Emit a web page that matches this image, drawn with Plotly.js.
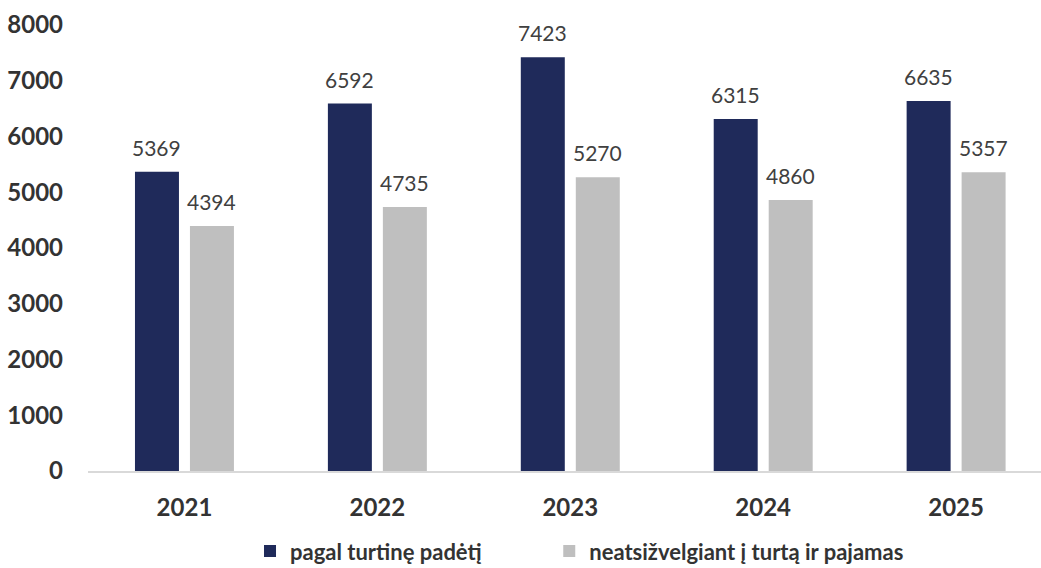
<!DOCTYPE html>
<html><head><meta charset="utf-8">
<script src="https://cdn.plot.ly/plotly-3.0.1.min.js"></script>
<style>html,body{margin:0;padding:0;background:#fff}#c{width:1041px;height:568px}</style>
</head><body><div id="c"></div>
<script>
const years = ['2021','2022','2023','2024','2025'];
const seriesA = [5369, 6592, 7423, 6315, 6635];
const seriesB = [4394, 4735, 5270, 4860, 5357];
const nameA = 'pagal turtinę padėtį';
const nameB = 'neatsižvelgiant į turtą ir pajamas';
const yTicks = [0,1000,2000,3000,4000,5000,6000,7000,8000];

const font = 'Lato, "Open Sans", sans-serif';
const txt = '#404040';

const annotations = [];
years.forEach((y,i)=>{
  annotations.push({x:i, y:seriesA[i], text:String(seriesA[i]), xref:'x', yref:'y', showarrow:false, xshift:-27.5, yanchor:'bottom', yshift:10, font:{family:font,size:21,color:txt}});
  annotations.push({x:i, y:seriesB[i], text:String(seriesB[i]), xref:'x', yref:'y', showarrow:false, xshift:27.5, yanchor:'bottom', yshift:10, font:{family:font,size:21,color:txt}});
});

const data = [
  {type:'bar', x:years, y:seriesA, name:nameA, marker:{color:'#1F2A5A'}, hoverinfo:'none', legend:'legend'},
  {type:'bar', x:years, y:seriesB, name:nameB, marker:{color:'#BFBFBF'}, hoverinfo:'none', legend:'legend2'}
];
const legFont = {family:font,size:22,color:'#333333',weight:'bold'};
const layout = {
  width:1041, height:568,
  margin:{l:88, r:0, t:25, b:97, autoexpand:false},
  paper_bgcolor:'#fff', plot_bgcolor:'#fff',
  barmode:'group', bargap:0.43, bargroupgap:0.2,
  showlegend:true,
  legend:{orientation:'h', x:0.17, xanchor:'left', y:-0.18, yanchor:'middle', font:legFont, itemclick:false},
  legend2:{orientation:'h', x:0.484, xanchor:'left', y:-0.18, yanchor:'middle', font:legFont, itemclick:false},
  xaxis:{type:'category', range:[-0.5,4.44], showline:true, linecolor:'#D9D9D9', linewidth:1.5, showgrid:false, ticks:'', ticklabelstandoff:15, tickfont:{family:font,size:24,color:'#333333',weight:'bold'}, fixedrange:true},
  yaxis:{range:[0,8000], tickvals:yTicks, ticktext:yTicks.map(String), showgrid:false, zeroline:false, showline:false, ticks:'', ticklabelstandoff:24, tickfont:{family:font,size:24,color:'#333333',weight:'bold'}, fixedrange:true},
  annotations:annotations
};
Plotly.newPlot('c', data, layout, {displayModeBar:false, staticPlot:true});
</script></body></html>
